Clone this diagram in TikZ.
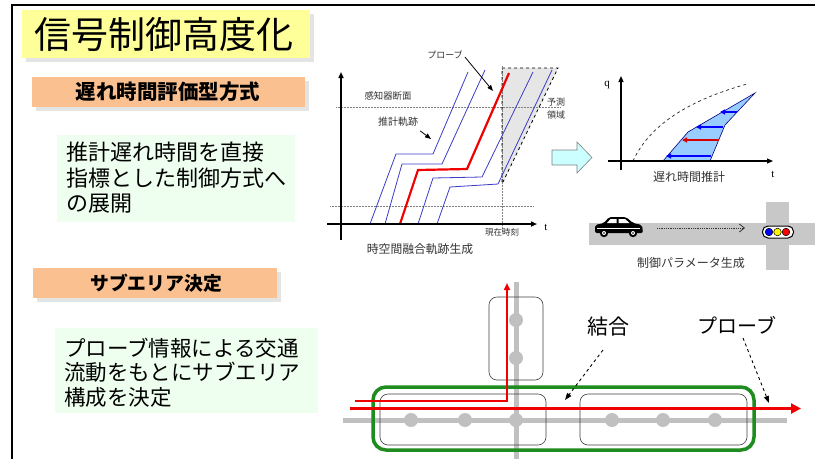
\documentclass[tikz,border=0pt]{standalone}
\usepackage{fontspec}
\setmainfont{Noto Sans CJK JP}
\newfontfamily\lat{Liberation Serif}
\usetikzlibrary{arrows.meta}
\definecolor{titleyellow}{HTML}{FFFF99}
\definecolor{headorange}{HTML}{FAC090}
\definecolor{palegreen}{HTML}{EFFFEF}
\definecolor{shadowgrey}{HTML}{E4E4E4}
\definecolor{trajblue}{HTML}{3C3CC8}
\definecolor{probered}{HTML}{F00000}
\definecolor{regiongrey}{HTML}{E6E6E6}
\definecolor{areablue}{HTML}{99CCFF}
\definecolor{arrowcyan}{HTML}{CCFFFF}
\definecolor{roadgrey}{HTML}{C8C8C8}
\definecolor{netgrey}{HTML}{C0C0C0}
\definecolor{areagreen}{HTML}{1E8C1E}
\begin{document}
\begin{tikzpicture}[x=1pt,y=-1pt,
  txt/.style={inner sep=0pt,font=\fontsize{#1}{#1}\selectfont},
  boldtxt/.style={inner sep=0pt,font=\bfseries\fontsize{#1}{#1}\selectfont},
  small/.style={inner sep=0pt,text=black!80,font=\fontsize{#1}{#1}\selectfont},
  axis/.style={line width=1.5pt,-{Triangle[length=6pt,width=5pt]}},
  guide/.style={gray,densely dotted,line width=0.5pt},
  traj/.style={trajblue,line width=0.8pt},
  probe/.style={probered,line width=2.2pt},
  pointer/.style={black,line width=0.8pt,-{Triangle[length=6pt,width=4.5pt]}},
  leftarrow/.style={line width=1.4pt,-{Triangle[length=5pt,width=5pt]}},
  subarea/.style={draw=black!75,line width=0.6pt,rounded corners=8pt},
  station/.style={circle,fill=netgrey,inner sep=0pt,minimum size=14pt},
  redroute/.style={probered,line width=2.4pt},
  callout/.style={black,dashed,line width=0.9pt,-{Triangle[length=7pt,width=5pt]}}]
\useasboundingbox (0,0) rectangle (815,459);
\fill[white] (0,0) rectangle (815,459);

% frame
\draw[line width=2.5pt] (815,5) -- (12,5) -- (12,459);

% title
\fill[shadowgrey] (26,14) rectangle (314,62);
\fill[titleyellow] (22,10) rectangle (310,58);
\node[txt=37] (title) at (164,34) {信号制御高度化};

% first heading and text
\fill[shadowgrey] (36,81) rectangle (309,111);
\fill[headorange] (32,77) rectangle (305,107);
\node[boldtxt=20.5] (head1) at (168,92) {遅れ時間評価型方式};
\fill[palegreen] (57,135) rectangle (295,222);
\node[txt=22,anchor=west] (t1a) at (66,152) {推計遅れ時間を直接};
\node[txt=22,anchor=west] (t1b) at (66,178) {指標とした制御方式へ};
\node[txt=22,anchor=west] (t1c) at (66,204) {の展開};

% second heading and text
\fill[shadowgrey] (37,272) rectangle (281,302);
\fill[headorange] (33,268) rectangle (277,298);
\node[boldtxt=18.8] (head2) at (156,283) {サブエリア決定};
\fill[palegreen] (55,328) rectangle (318,413);
\node[txt=21.5,anchor=west] (t2a) at (64,348) {プローブ情報による交通};
\node[txt=21.5,anchor=west] (t2b) at (64,372) {流動をもとにサブエリア};
\node[txt=21.5,anchor=west] (t2c) at (64,397) {構成を決定};

% ---- space-time trajectory chart ----
\fill[regiongrey] (502,68) -- (558,68) -- (503,182) -- (502,182) -- cycle;
\draw[guide] (336,107) -- (560,107);
\draw[guide] (330,206) -- (534,206);
\draw[guide] (502,66) -- (502,232);
\draw[black,dashed,line width=0.8pt] (502,182) -- (502,68) -- (558,68) -- (503,182);
\draw[traj] (370,224) -- (396,154) -- (433,154) -- (468,72);
\draw[traj] (385,224) -- (402,164) -- (442,164) -- (485,70);
\draw[traj] (418,224) -- (433,178) -- (482,177) -- (533,72);
\draw[traj] (437,224) -- (450,187) -- (498,184) -- (552,70);
\draw[probe] (400,224) -- (418,170) -- (467,169) -- (509,73);
\draw[axis] (341,240) -- (341,72);
\draw[axis] (327,224) -- (537,224);
\node[inner sep=0pt,font=\lat\fontsize{11}{11}\selectfont] (tlab1) at (546,227) {t};
\node[small=9.4] (sensor) at (388,96) {感知器断面};
\node[small=10] (est) at (398,122) {推計軌跡};
\node[small=9] (probelab) at (445,55) {プローブ};
\node[small=9] (pred1) at (556,102) {予測};
\node[small=9] (pred2) at (556,115) {領域};
\node[small=8.5] (now) at (502,232) {現在時刻};
\node[small=11.8] (cap1) at (420,249) {時空間融合軌跡生成};
\coordinate (estend) at (431,139);
\coordinate (probeend) at (493,91);
\draw[pointer] (est.south east) ++(2,4) -- (estend);
\draw[pointer] (probelab.east) ++(2,2) -- (probeend);

% ---- block arrow ----
\draw[fill=arrowcyan,draw=gray,line width=0.6pt]
  (552,150) -- (577,150) -- (577,142) -- (592,157.5) -- (577,173) -- (577,165) -- (552,165) -- cycle;

% ---- delay-time estimate chart ----
\fill[areablue,draw=blue!50!black,line width=0.6pt]
  (663,161) -- (688,132) -- (755,93) -- (725,125) -- (710,161) -- cycle;
\draw[black!85,dashed,line width=0.7pt] (633,161) .. controls (650,124) and (690,100) .. (747,84);
\draw[leftarrow,blue] (737,112) -- (720,112);
\draw[leftarrow,blue] (723,127) -- (696,127);
\draw[leftarrow,red!85!black] (719,140) -- (682,140);
\draw[leftarrow,blue] (711,156) -- (666,156);
\draw[axis,line width=1.2pt] (621,170) -- (621,76);
\draw[axis,line width=1.2pt] (608,161) -- (773,161);
\node[inner sep=0pt,font=\lat\fontsize{11}{11}\selectfont] (qlab) at (607,85) {q};
\node[inner sep=0pt,font=\lat\fontsize{11}{11}\selectfont] (tlab2) at (773,174) {t};
\node[small=12] (cap2) at (689,177) {遅れ時間推計};

% ---- road, car and signal ----
\fill[roadgrey] (589,223) rectangle (815,245);
\fill[roadgrey] (766,202) rectangle (789,270);
% car
\begin{scope}
  \fill[black,rounded corners=2pt] (595,233) -- (595,225) -- (604,223) -- (609,217) -- (626,217) -- (633,223) -- (642,225) -- (643,233) -- cycle;
  \fill[white] (607,223) -- (610.5,219) -- (616.5,219) -- (616.5,223) -- cycle;
  \fill[white] (618.5,223) -- (618.5,219) -- (625,219) -- (629.5,223) -- cycle;
  \draw[white,line width=0.5pt] (597,228) -- (640,228);
  \fill[black] (604,233) circle (4.2);
  \fill[white] (604,233) circle (2);
  \fill[black] (604,233) circle (0.9);
  \fill[black] (633,233) circle (4.2);
  \fill[white] (633,233) circle (2);
  \fill[black] (633,233) circle (0.9);
\end{scope}
\coordinate (carfront) at (657,228);
\coordinate (signalside) at (745,228);
\draw[black!80,densely dotted,line width=0.8pt,-{Straight Barb[length=5pt,width=8pt]}] (carfront) -- (signalside);
\node[draw=black,fill=white,line width=1pt,rounded corners=5.5pt,minimum width=31pt,minimum height=12pt,inner sep=0pt] (signal) at (778,232) {};
\fill[blue,draw=black,line width=0.5pt] (769,232) circle (3.8);
\fill[yellow,draw=black,line width=0.5pt] (777.5,232) circle (3.8);
\fill[red,draw=black,line width=0.5pt] (786,232) circle (3.8);
\node[small=12] (cap3) at (691,263) {制御パラメータ生成};

% ---- sub-area network ----
\draw[netgrey,line width=5pt] (343,420) -- (787,420);
\draw[netgrey,line width=5pt] (516,282) -- (516,459);
\foreach \n/\x in {s1/411,s2/465,s3/516,s4/612,s5/663,s6/715}
  \node[station] (\n) at (\x,420) {};
\node[station] (s7) at (516,320) {};
\node[station] (s8) at (516,358) {};
\draw[subarea] (489,297) rectangle (543,380);
\draw[subarea] (380,394) rectangle (546,445);
\draw[subarea] (580,394) rectangle (747,445);
\draw[areagreen,line width=3.5pt,rounded corners=13pt] (373,387) rectangle (754,450);
\draw[redroute,-{Triangle[length=7pt,width=6pt]}] (355,401) -- (507,401) -- (507,283);
\draw[redroute,-{Triangle[length=10pt,width=10pt]}] (350,408.5) -- (801,408.5);
\node[txt=21] (join) at (608,327) {結合};
\node[txt=20] (probe2) at (737,325) {プローブ};
\coordinate (jointip) at (565,400);
\coordinate (probetip) at (769,403);
\draw[callout] (603,350) -- (jointip);
\draw[callout] (743,338) -- (probetip);
\end{tikzpicture}
\end{document}
